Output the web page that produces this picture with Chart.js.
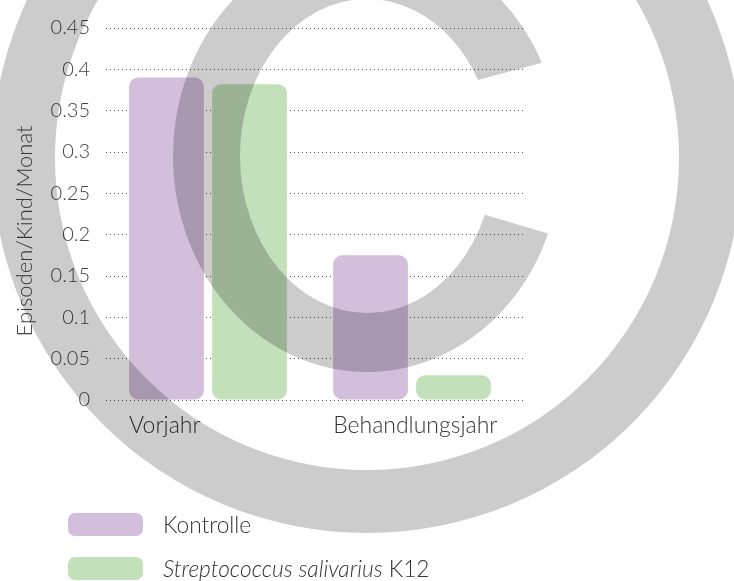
<!DOCTYPE html>
<html><head><meta charset="utf-8">
<script src="https://cdn.jsdelivr.net/npm/chart.js@4"></script>
<style>
html,body{margin:0;padding:0;background:#fff;}
#wrap{position:relative;width:734px;height:581px;overflow:hidden;}
#c{position:absolute;left:0;top:0;}
.leg{position:absolute;left:68px;height:23px;display:flex;align-items:center;font-family:Lato,sans-serif;font-weight:300;font-size:22.7px;color:#333;white-space:nowrap;}
.sw{width:75px;height:23px;border-radius:7px;margin-right:20px;flex:none;}
</style></head><body>
<div id="wrap"><canvas id="c" width="734" height="581"></canvas><div id="legend"></div></div>
<script>
const categories = ['Vorjahr', 'Behandlungsjahr'];
const seriesNames = ['Kontrolle', 'Streptococcus salivarius K12'];
const italicPart = 'Streptococcus salivarius';
const kontrolle = [0.39, 0.175];
const k12 = [0.382, 0.03];
const yTicks = [0, 0.05, 0.1, 0.15, 0.2, 0.25, 0.3, 0.35, 0.4, 0.45];
const yTickLabels = ['0', '0.05', '0.1', '0.15', '0.2', '0.25', '0.3', '0.35', '0.4', '0.45'];
const yTitle = 'Episoden/Kind/Monat';
const colors = ['rgb(211,190,219)', 'rgb(194,224,185)'];
const FONT = 'Lato, sans-serif';

const seriesValues = [kontrolle, k12];

const xLabelPlugin = {
  id: 'xLabels',
  afterDatasetsDraw(chart) {
    const ctx = chart.ctx;
    const meta = chart.getDatasetMeta(0);
    ctx.save();
    ctx.font = '300 23px ' + FONT;
    ctx.fillStyle = '#333';
    ctx.textAlign = 'left';
    ctx.textBaseline = 'alphabetic';
    categories.forEach((c, i) => {
      const bar = meta.data[i];
      ctx.fillText(c, bar.x - bar.width / 2, chart.chartArea.bottom + 33);
    });
    // y axis title
    const ys = chart.scales.y;
    ctx.font = '300 22px ' + FONT;
    ctx.translate(25, (ys.top + ys.bottom) / 2 + 17);
    ctx.rotate(-Math.PI / 2);
    ctx.textAlign = 'center';
    ctx.textBaseline = 'middle';
    ctx.fillStyle = '#444';
    ctx.fillText(yTitle, 0, 0);
    ctx.restore();
  }
};

const watermarkPlugin = {
  id: 'watermark',
  afterDraw(chart) {
    const ctx = chart.ctx;
    const d = Math.PI / 180;
    ctx.save();
    ctx.fillStyle = 'rgba(0,0,0,0.2)';
    // ring
    ctx.beginPath();
    ctx.arc(367, 158, 375, 0, Math.PI * 2);
    ctx.arc(367, 158, 312, 0, Math.PI * 2, true);
    ctx.fill('evenodd');
    // C
    ctx.beginPath();
    ctx.ellipse(367, 156, 194, 216, 0, -25.6 * d, 21 * d, true);
    ctx.ellipse(367, 156, 127, 157, 0, 22 * d, -29 * d, false);
    ctx.closePath();
    ctx.fill();
    ctx.restore();
  }
};

new Chart(document.getElementById('c'), {
  type: 'bar',
  data: {
    datasets: seriesNames.map((name, s) => ({
      label: name,
      data: categories.map((c, i) => ({ x: i, y: seriesValues[s][i] })),
      backgroundColor: colors[s],
      borderWidth: 0,
      borderRadius: 9,
      borderSkipped: false,
      categoryPercentage: 0.814,
      barPercentage: 0.9
    }))
  },
  options: {
    responsive: false,
    animation: false,
    devicePixelRatio: 1,
    layout: { padding: { left: 0, top: 26, right: 211, bottom: 181 } },
    plugins: { legend: { display: false }, tooltip: { enabled: false } },
    scales: {
      x: {
        type: 'linear',
        display: false,
        offset: false,
        min: -0.5,
        max: 1.544,
        afterBuildTicks(scale) { scale.ticks = categories.map((c, i) => ({ value: i })); }
      },
      y: {
        min: 0,
        max: 0.45,
        afterBuildTicks(scale) { scale.ticks = yTicks.map(v => ({ value: v })); },
        afterFit(scale) { scale.width = 106; },
        ticks: {
          padding: 16,
          color: '#444',
          font: { family: FONT, weight: '300', size: 20 },
          callback: (v) => { const i = yTicks.findIndex(t => Math.abs(t - v) < 1e-9); return i >= 0 ? yTickLabels[i] : ''; }
        },
        grid: { color: '#555', lineWidth: 1, drawTicks: false, borderDash: [1, 3] },
        border: { display: false, dash: [1, 3] }
      }
    }
  },
  plugins: [xLabelPlugin, watermarkPlugin]
});

// legend
const leg = document.getElementById('legend');
seriesNames.forEach((name, s) => {
  const row = document.createElement('div');
  row.className = 'leg';
  row.style.top = (513 + s * 44) + 'px';
  const sw = document.createElement('span');
  sw.className = 'sw';
  sw.style.background = colors[s];
  const txt = document.createElement('span');
  txt.innerHTML = name.replace(italicPart, '<i>' + italicPart + '</i>');
  row.appendChild(sw);
  row.appendChild(txt);
  leg.appendChild(row);
});
</script>
</body></html>
